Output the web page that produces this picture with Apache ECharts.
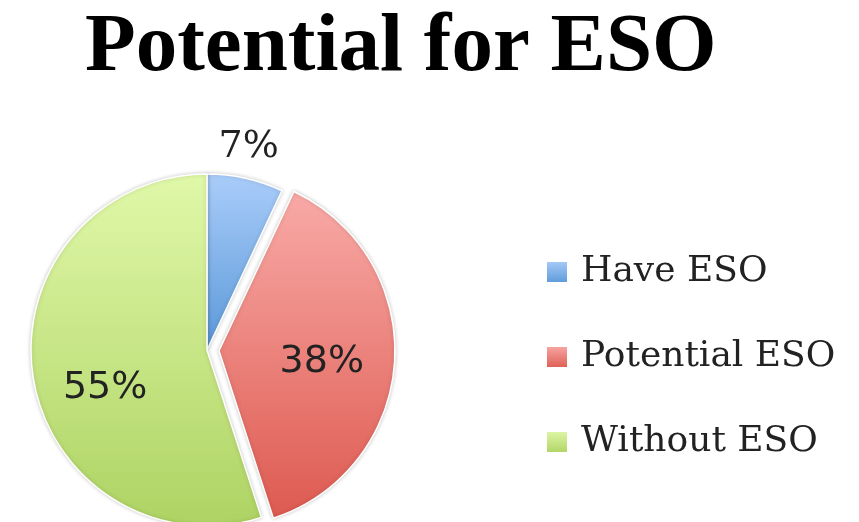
<!DOCTYPE html>
<html>
<head>
<meta charset="utf-8">
<script src="https://cdn.jsdelivr.net/npm/echarts@6/dist/echarts.min.js"></script>
<style>
  html, body { margin: 0; padding: 0; background: #fff; }
  #main { width: 859px; height: 522px; }
</style>
</head>
<body>
<div id="main"></div>
<script>
const categories = ['Have ESO', 'Potential ESO', 'Without ESO'];
const values = [7, 38, 55];

// colours per slice: light top -> darker bottom
const topColors = ['#aacdfa', '#f9aaa7', '#e0f8a9'];
const bottomColors = ['#5a98d8', '#dd5a50', '#aed363'];

// small nudges for the percentage labels
const labelShift = [
    { dx: -34, dy: -21 },
    { dx: 12, dy: 6 },
    { dx: -12, dy: 24 }
];

const chart = echarts.init(document.getElementById('main'));

const pieData = categories.map(function (name, i) {
    const item = {
        name: name,
        value: values[i],
        itemStyle: {
            color: new echarts.graphic.LinearGradient(0, 0, 0, 1, [
                { offset: 0, color: topColors[i] },
                { offset: 1, color: bottomColors[i] }
            ])
        }
    };
    if (i === 0) {
        item.label = {
            position: 'outside',
            fontFamily: 'DejaVu Serif',
            fontSize: 38
        };
    }
    if (i === 1) {
        item.selected = true;
    }
    return item;
});

const option = {
    animation: false,
    title: {
        text: 'Potential for ESO',
        left: 80,
        top: 2,
        textStyle: {
            fontFamily: 'Liberation Serif',
            fontWeight: 'bold',
            fontSize: 83,
            color: '#000'
        }
    },
    legend: {
        orient: 'vertical',
        left: 540,
        top: 249,
        icon: 'rect',
        itemWidth: 22,
        itemHeight: 22,
        itemGap: 49,
        data: categories,
        textStyle: {
            fontFamily: 'DejaVu Serif',
            fontSize: 36,
            color: '#222',
            padding: [0, 0, 0, 8]
        }
    },
    series: [
        {
            type: 'pie',
            center: [207, 350],
            radius: 176,
            startAngle: 90,
            clockwise: true,
            selectedMode: 'single',
            selectedOffset: 12,
            avoidLabelOverlap: false,
            itemStyle: {
                borderColor: '#fff',
                borderWidth: 1.5,
                shadowBlur: 4,
                shadowColor: 'rgba(0,0,0,0.2)'
            },
            label: {
                show: true,
                position: 'inside',
                formatter: '{d}%',
                fontFamily: 'DejaVu Sans',
                fontSize: 38,
                color: '#222'
            },
            labelLine: {
                show: false,
                length: 10,
                length2: 0
            },
            labelLayout: function (params) {
                return labelShift[params.dataIndex];
            },
            emphasis: { disabled: true },
            data: pieData
        }
    ]
};

chart.setOption(option);
window.addEventListener('resize', () => {
    chart.resize();
});
</script>
</body>
</html>
